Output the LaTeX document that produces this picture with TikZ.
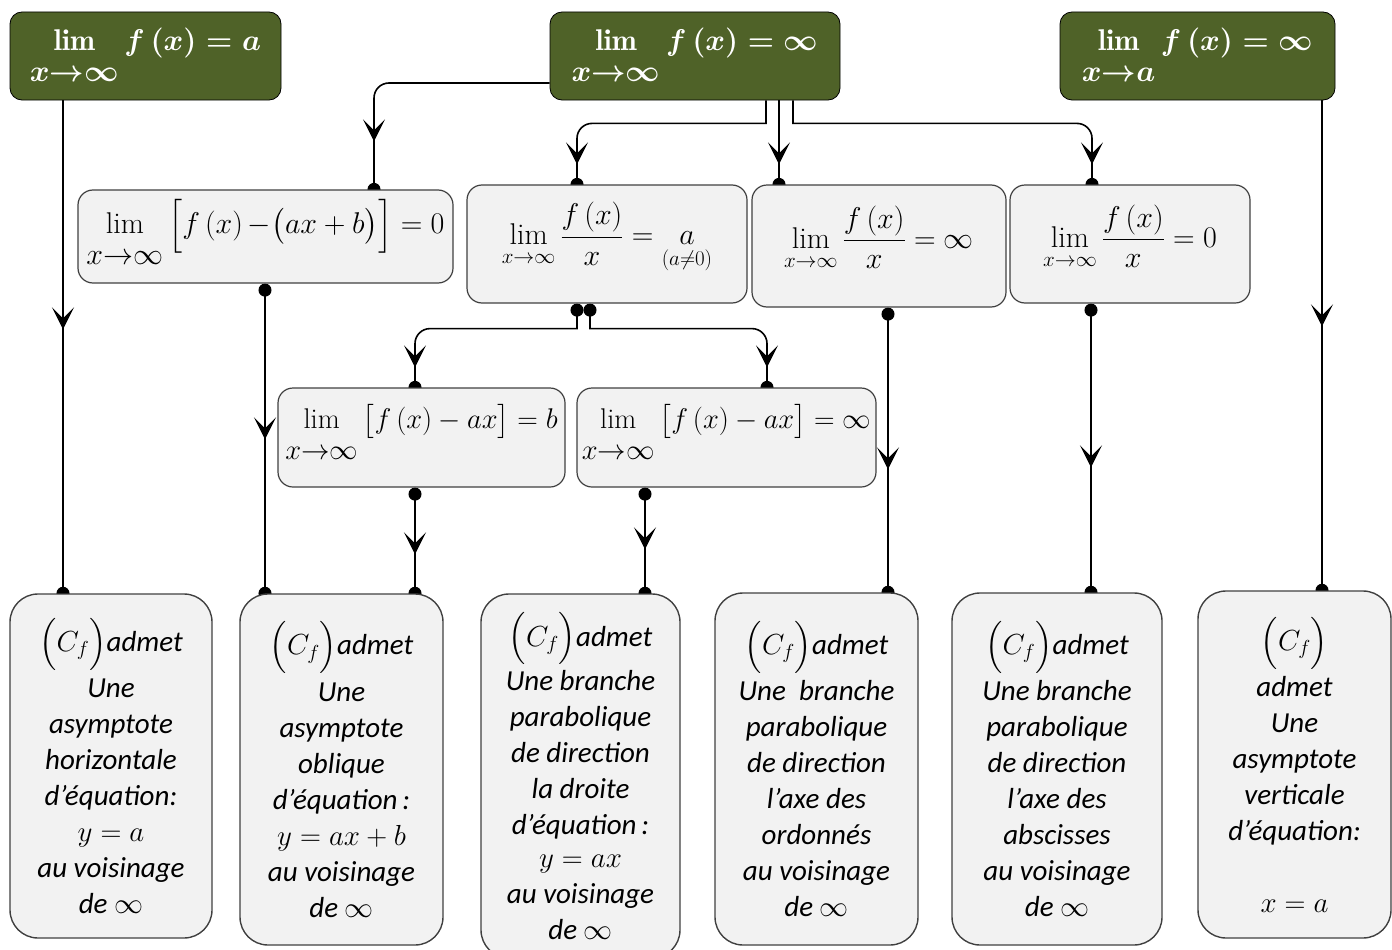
\RequirePackage{fix-cm}
\documentclass[tikz,border=0pt]{standalone}
\usepackage{amsmath,amssymb}
\usepackage{fontspec}
\newfontfamily\carl{Carlito}
\usetikzlibrary{arrows.meta,decorations.markings,backgrounds}
\definecolor{olivebox}{HTML}{4F6228}
\definecolor{lightbox}{HTML}{F2F2F2}
\definecolor{boxline}{HTML}{404040}
\newcommand{\limsub}[1]{\lim\limits_{\textstyle\rule{0pt}{26pt}#1}}
\newcommand{\limsmall}{\lim\limits_{\rule{0pt}{14pt}x\to\infty}}
\newcommand{\lift}[2]{\raisebox{#1}[\height][\depth]{#2}}
\tikzset{
  topbox/.style={draw=black, line width=0.8pt, fill=olivebox, rounded corners=12pt,
    text=white, font=\fontsize{30}{36}\selectfont\boldmath, inner sep=0pt},
  midbox/.style={draw=boxline, line width=1.2pt, fill=lightbox, rounded corners=15pt,
    font=\fontsize{30}{36}\selectfont, inner sep=0pt},
  botbox/.style={draw=boxline, line width=1.4pt, fill=lightbox, rounded corners=28pt,
    font=\carl\itshape\fontsize{29}{36}\selectfont, align=center, inner sep=0pt},
  conn/.style={line width=1.6pt, -{Circle[length=13pt]}, shorten >=-6.5pt},
  bothdots/.style={{Circle[length=13pt]}-{Circle[length=13pt]}},
  arr/.style={postaction={decorate, decoration={markings,
    mark=at position #1 with {\arrow{Stealth[length=22pt,width=22pt,inset=11pt]}}}}},
}
\begin{document}
\begin{tikzpicture}[x=1pt,y=-1pt]
\useasboundingbox (0,0) rectangle (1392,950);
% top row
\node[topbox, minimum width=271pt, minimum height=88pt] (A) at (145.5,56)
  {$\limsub{x{\to}\infty} f\left(x\right)=a$};
\node[topbox, minimum width=290pt, minimum height=88pt] (B) at (695,56)
  {$\limsub{x{\to}\infty} f\left(x\right)=\infty$};
\node[topbox, minimum width=275pt, minimum height=88pt] (C) at (1197.5,56)
  {$\limsub{x{\to}a} f\left(x\right)=\infty$};
% middle row
\node[midbox, minimum width=375pt, minimum height=93pt] (D) at (265.5,236.5)
  {\lift{3pt}{$\limsub{x{\to}\infty}\Big[f\left(x\right){-}\big(ax+b\big)\Big]=0$}};
\node[midbox, minimum width=280pt, minimum height=118pt] (E) at (607,244)
  {\lift{6pt}{$\limsmall\dfrac{f\left(x\right)}{x}=\underset{(a\neq0)}{a}$}};
\node[midbox, minimum width=254pt, minimum height=122pt] (F) at (879,246)
  {\lift{8pt}{$\limsmall\dfrac{f\left(x\right)}{x}=\infty$}};
\node[midbox, minimum width=240pt, minimum height=118pt] (G) at (1130,244)
  {\lift{7pt}{$\limsmall\dfrac{f\left(x\right)}{x}=0$}};
\node[midbox, minimum width=287pt, minimum height=99pt, font=\fontsize{28.5}{34}\selectfont] (H) at (421.5,437.5)
  {\lift{4pt}{$\limsub{x{\to}\infty}\big[f\left(x\right)-ax\big]=b$}};
\node[midbox, minimum width=299pt, minimum height=99pt, font=\fontsize{28.5}{34}\selectfont] (I) at (726.5,437.5)
  {\lift{4pt}{$\limsub{x{\to}\infty}\big[f\left(x\right)-ax\big]=\infty$}};
% bottom row
\node[botbox, minimum width=202pt, minimum height=344pt] (J) at (111,766)
  {$\Big(C_f\Big)$admet\\[8pt] Une\\ asymptote\\ horizontale\\ d’équation:\\ $y=a$\\ au voisinage\\ de $\infty$};
\node[botbox, minimum width=203pt, minimum height=351pt] (K) at (341.5,769.5)
  {$\Big(C_f\Big)$admet\\[8pt] Une\\ asymptote\\ oblique\\ d’équation\,:\\ $y=ax+b$\\ au voisinage\\ de $\infty$};
\node[botbox, minimum width=199pt, minimum height=364pt] (L) at (580.5,776)
  {$\Big(C_f\Big)$admet\\[4pt] Une branche\\ parabolique\\ de direction\\ la droite\\ d’équation\,:\\[-3pt] $y=ax$\\ au voisinage\\ de $\infty$};
\node[botbox, minimum width=203pt, minimum height=352pt] (M) at (816.5,769)
  {$\Big(C_f\Big)$admet\\[6pt] Une\ \ branche\\ parabolique\\ de direction\\ l’axe des\\ ordonnés\\ au voisinage\\ de $\infty$};
\node[botbox, minimum width=210pt, minimum height=352pt] (N) at (1057,769)
  {$\Big(C_f\Big)$admet\\[6pt] Une branche\\ parabolique\\ de direction\\ l’axe des\\ abscisses\\ au voisinage\\ de $\infty$};
\node[botbox, minimum width=193pt, minimum height=347pt] (O) at (1294.5,764.5)
  {$\Big(C_f\Big)$\\[6pt] admet\\ Une\\ asymptote\\ verticale\\ d’équation:\\[36pt] $x=a$};
% anchor coordinates
\coordinate (a1) at ([xshift=-82.5pt]A.south);
\coordinate (b0) at ([yshift=-27pt]B.west);
\coordinate (d0) at ([xshift=108.5pt]D.north);
\coordinate (b1) at ([xshift=71pt]B.south);
\coordinate (e0) at ([xshift=-30pt]E.north);
\coordinate (b2) at ([xshift=84pt]B.south);
\coordinate (b3) at ([xshift=98pt]B.south);
\coordinate (g0) at ([xshift=-38pt]G.north);
\coordinate (c0) at ([xshift=124.5pt]C.south);
\coordinate (d1) at ([xshift=-0.5pt]D.south);
\coordinate (e1) at ([xshift=-30pt]E.south);
\coordinate (e2) at ([xshift=-17pt]E.south);
\coordinate (h0) at ([xshift=-6.5pt]H.north);
\coordinate (i0) at ([xshift=40.5pt]I.north);
\coordinate (f1) at ([xshift=9pt]F.south);
\coordinate (g1) at ([xshift=-39pt]G.south);
\coordinate (h1) at ([xshift=-6.5pt]H.south);
\coordinate (i1) at ([xshift=-81.5pt]I.south);
% connectors
\begin{scope}[on background layer]
\draw[conn, arr=-264pt] (a1) -- (a1 |- J.north);
\draw[conn, rounded corners=15pt, arr=-48pt] (b0) -| (d0);
\draw[conn, arr=-20pt] (b1) -- ++(0,23) coordinate (b1c) [rounded corners=15pt] -- (b1c -| e0) -- (e0);
\draw[conn, arr=-20pt] (b2) -- (b2 |- F.north);
\draw[conn, arr=-20pt] (b3) -- ++(0,23) coordinate (b3c) [rounded corners=15pt] -- (b3c -| g0) -- (g0);
\draw[conn, arr=-264pt] (c0) -- (c0 |- O.north);
\draw[conn, bothdots, arr=-154pt] (d1) -- (d1 |- K.north);
\draw[conn, bothdots, arr=-20pt] (e1) -- ++(0,25) coordinate (e1c) [rounded corners=15pt] -- (e1c -| h0) -- (h0);
\draw[conn, bothdots, arr=-20pt] (e2) -- ++(0,25) coordinate (e2c) [rounded corners=15pt] -- (e2c -| i0) -- (i0);
\draw[conn, bothdots, arr=-123pt] (f1) -- (f1 |- M.north);
\draw[conn, bothdots, arr=-125pt] (g1) -- (g1 |- N.north);
\draw[conn, bothdots, arr=-39pt] (h1) -- (h1 |- K.north);
\draw[conn, bothdots, arr=-44pt] (i1) -- (i1 |- L.north);
\end{scope}
\end{tikzpicture}
\end{document}
